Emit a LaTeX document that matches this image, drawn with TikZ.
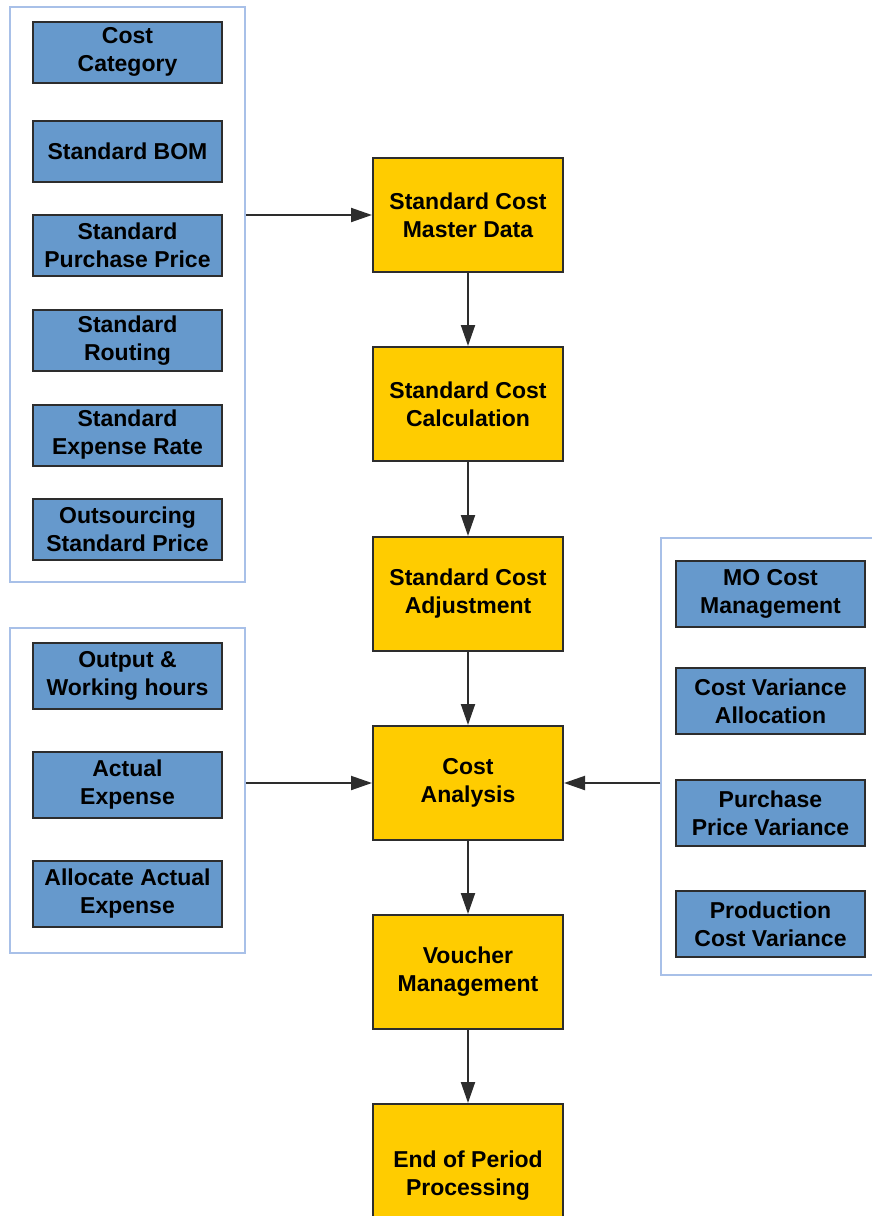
\documentclass[tikz,border=0pt]{standalone}
\usepackage{fontspec}
\setmainfont{Liberation Sans}
\usetikzlibrary{arrows.meta}
\definecolor{boxblue}{RGB}{102,153,204}
\definecolor{boxyellow}{RGB}{255,204,0}
\definecolor{framelight}{RGB}{168,192,232}
\definecolor{linegray}{RGB}{45,45,45}
\tikzset{
	input/.style={draw=linegray, line width=2pt, fill=boxblue, minimum width=189pt, minimum height=61pt, inner sep=0pt, align=center, font=\bfseries\fontsize{23}{28}\selectfont},
	stage/.style={draw=linegray, line width=2pt, fill=boxyellow, minimum width=190pt, minimum height=114pt, inner sep=0pt, align=center, font=\bfseries\fontsize{23}{28}\selectfont},
	group/.style={draw=framelight, line width=1.5pt},
	flow/.style={draw=linegray, line width=2pt, -{Triangle[length=21pt,width=14pt]}}
}

\begin{document}
\begin{tikzpicture}[x=1pt, y=-1pt]
			%%%%% START %%%%%
			\useasboundingbox (0, 0) rectangle (871, 1216);
			
			% standard data inputs
			\node[group, minimum width=235pt, minimum height=575pt] (stdgrp) at (127.5, 294.5) {};
			\node[input] (category) at (127.5, 52) {Cost\\Category};
			\node[input] (bom) at (127.5, 151) {Standard BOM};
			\node[input] (purchase) at (127.5, 245.5) {Standard\\Purchase Price};
			\node[input] (routing) at (127.5, 340.5) {Standard\\Routing};
			\node[input] (rate) at (127.5, 435) {Standard\\Expense Rate};
			\node[input] (outsource) at (127.5, 529.5) {Outsourcing\\Standard Price};
			
			% actual data inputs
			\node[group, minimum width=235pt, minimum height=325pt] (actgrp) at (127.5, 790.5) {};
			\node[input, minimum height=66pt] (output) at (127.5, 676) {Output \&\\Working hours};
			\node[input, minimum height=66pt] (actual) at (127.5, 785) {Actual\\Expense};
			\node[input, minimum height=66pt] (allocate) at (127.5, 894) {Allocate Actual\\Expense};
			
			% variance inputs
			\node[group, minimum width=220pt, minimum height=437pt] (vargrp) at (771, 756.5) {};
			\node[input, minimum height=66pt] (mocost) at (770.5, 594) {MO Cost\\Management};
			\node[input, minimum height=66pt] (varalloc) at (770.5, 701) {Cost Variance\\Allocation};
			\node[input, minimum height=66pt] (ppv) at (770.5, 813) {Purchase\\Price Variance};
			\node[input, minimum height=66pt] (pcv) at (770.5, 924) {Production\\Cost Variance};
			
			% main flow
			\node[stage] (master) at (468, 215) {Standard Cost\\Master Data};
			\node[stage] (calc) at (468, 404) {Standard Cost\\Calculation};
			\node[stage] (adjust) at (468, 594) {Standard Cost\\Adjustment};
			\node[stage] (analysis) at (468, 783) {Cost\\Analysis};
			\node[stage] (voucher) at (468, 972) {Voucher\\Management};
			\node[stage, minimum height=144pt] (period) at (468, 1176) {End of Period\\Processing};
			
			\draw[flow] (stdgrp.east |- master) -- (master.west);
			\draw[flow] (master) -- (calc);
			\draw[flow] (calc) -- (adjust);
			\draw[flow] (adjust) -- (analysis);
			\draw[flow] (analysis) -- (voucher);
			\draw[flow] (voucher) -- (period);
			\draw[flow] (actgrp.east |- analysis) -- (analysis.west);
			\draw[flow] (vargrp.west |- analysis) -- (analysis.east);
			%%%%% END %%%%%
\end{tikzpicture}
\end{document}
